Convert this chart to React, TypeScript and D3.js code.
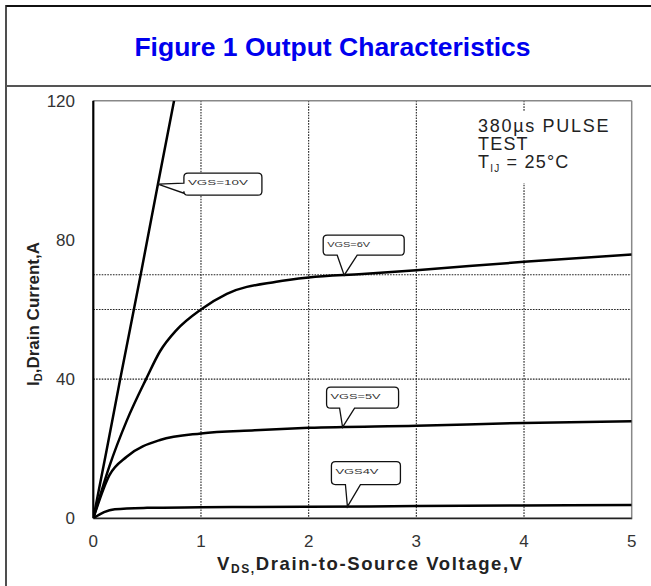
import React from "react";
import * as d3 from "d3";

// ---- data ----
const X_TICKS = [0, 1, 2, 3, 4, 5];
const Y_TICKS = [0, 40, 80, 120];
const X_GRID = [1, 2, 3, 4];
const Y_GRID = [40, 60, 70];

const VDS_10V = [0, 0.12, 0.25, 0.44, 0.6, 0.75];
const ID_10V = [0, 19, 40, 70, 96, 120];
const VDS_6V = [0, 0.15, 0.31, 0.49, 0.62, 0.77, 1, 1.24, 1.7, 2, 2.5, 3, 4, 5];
const ID_6V = [0, 15, 28, 40, 48, 54, 60, 64.5, 68, 69.2, 70.2, 71.3, 73.7, 75.8];
const VDS_5V = [0, 0.15, 0.31, 0.62, 1, 1.5, 2, 3, 4, 5];
const ID_5V = [0, 12.4, 17.7, 22.5, 24.4, 25.3, 26, 26.6, 27.4, 27.9];
const VDS_4V = [0, 0.1, 0.2, 0.5, 1, 2, 3, 4, 5];
const ID_4V = [0, 1.8, 2.6, 3.0, 3.2, 3.3, 3.5, 3.7, 3.8];

const SERIES_NAMES = ["VGS=10V", "VGS=6V", "VGS=5V", "VGS4V"];
const LABEL_AT_VDS = [0.6, 2.33, 2.315, 2.36];

const TITLE = "Figure 1 Output Characteristics";
const NOTE_LINES = ["380\u00B5s PULSE", "TEST"];

// ---- layout ----
const W = 651;
const H = 586;
const PL = 93.3, PR = 631.7, PT = 100.7, PB = 518.3;
const FONT = "'Liberation Sans', Arial, Helvetica, sans-serif";

// callout geometry (pixel offsets from the pointer tip)
const CALLOUTS = [
  { side: "left", box: [26, 104, -11, 11], base: [-1, 9], len: 60 },
  { side: "down", box: [-21, 60, -40, -20], base: [-7, 13], len: 43 },
  { side: "down", box: [-16, 56, -40, -19], base: [-3, 12], len: 50 },
  { side: "down", box: [-16, 53, -45, -22], base: [-2, 13], len: 43 },
];

function interp(vs: number[], is: number[], v: number) {
  for (let i = 1; i < vs.length; i++) {
    if (v <= vs[i]) {
      const t = (v - vs[i - 1]) / (vs[i] - vs[i - 1]);
      return is[i - 1] + t * (is[i] - is[i - 1]);
    }
  }
  return is[is.length - 1];
}

function calloutPath(side: string, x0: number, x1: number, y0: number, y1: number, b1: number, b2: number, tx: number, ty: number) {
  const r = 4;
  if (side === "down") {
    return `M${x0 + r},${y0} H${x1 - r} Q${x1},${y0} ${x1},${y0 + r} V${y1 - r} Q${x1},${y1} ${x1 - r},${y1} H${b2} L${tx},${ty} L${b1},${y1} H${x0 + r} Q${x0},${y1} ${x0},${y1 - r} V${y0 + r} Q${x0},${y0} ${x0 + r},${y0} Z`;
  }
  return `M${x0 + r},${y0} H${x1 - r} Q${x1},${y0} ${x1},${y0 + r} V${y1 - r} Q${x1},${y1} ${x1 - r},${y1} H${x0 + r} Q${x0},${y1} ${x0},${y1 - r} V${b2} L${tx},${ty} L${x0},${b1} V${y0 + r} Q${x0},${y0} ${x0 + r},${y0} Z`;
}

export default function App() {
  const x = d3.scaleLinear().domain([0, 5]).range([PL, PR]);
  const y = d3.scaleLinear().domain([0, 120]).range([PB, PT]);
  const series = [
    [VDS_10V, ID_10V],
    [VDS_6V, ID_6V],
    [VDS_5V, ID_5V],
    [VDS_4V, ID_4V],
  ];
  const line = d3
    .line<[number, number]>()
    .x((d) => x(d[0]))
    .y((d) => y(d[1]))
    .curve(d3.curveMonotoneX);

  return (
    <div style={{ position: "fixed", left: 0, top: 0 }}>
      <svg width={W} height={H} style={{ display: "block", background: "#fff" }} fontFamily={FONT}>
        <rect x={0} y={0} width={W} height={H} fill="#fff" />
        {/* outer frame */}
        <line x1={6} y1={6} x2={W} y2={6} stroke="#111" strokeWidth={2} />
        <line x1={6} y1={5} x2={6} y2={H} stroke="#222" strokeWidth={1.6} />
        <line x1={6} y1={86} x2={W} y2={86} stroke="#555" strokeWidth={2} />
        <text x={332.5} y={56} textAnchor="middle" fontSize={26.5} fontWeight="bold" fill="#0000ee">
          {TITLE}
        </text>

        <defs>
          <clipPath id="plotclip">
            <rect x={PL} y={PT} width={PR - PL} height={PB - PT} />
          </clipPath>
        </defs>

        {/* grid */}
        {X_GRID.map((v) => (
          <line key={"gx" + v} x1={x(v)} x2={x(v)} y1={PT} y2={PB} stroke="#222" strokeWidth={1.1} strokeDasharray="1.6,1.2" />
        ))}
        {Y_GRID.map((v) => (
          <line key={"gy" + v} x1={PL} x2={PR} y1={y(v)} y2={y(v)} stroke="#222" strokeWidth={1.1} strokeDasharray="1.6,1.2" />
        ))}

        {/* frame */}
        <line x1={PL} x2={PR} y1={PT} y2={PT} stroke="#888" strokeWidth={1.5} />
        <line x1={PR} x2={PR} y1={PT} y2={PB + 1} stroke="#888" strokeWidth={1.5} />
        <line x1={PL} x2={PR} y1={PB} y2={PB} stroke="#222" strokeWidth={1.8} />
        <line x1={PL} x2={PL} y1={PT} y2={PB} stroke="#000" strokeWidth={2.2} />

        {/* note box */}
        <rect x={473} y={112} width={152} height={71} fill="#fff" />
        <text x={478} y={131.7} fontSize={18} fill="#222" letterSpacing={1.7}>
          {NOTE_LINES[0]}
        </text>
        <text x={478} y={150} fontSize={18} fill="#222" letterSpacing={1.2}>
          {NOTE_LINES[1]}
        </text>
        <text x={478} y={168.3} fontSize={18} fill="#222" letterSpacing={1.2}>
          T<tspan fontSize={10} dy={4}>IJ</tspan>
          <tspan dy={-4}>{" = 25\u00B0C"}</tspan>
        </text>

        {/* curves */}
        <g clipPath="url(#plotclip)">
          {series.map(([vs, is], i) => (
            <path
              key={"s" + i}
              d={line(vs.map((v, k) => [v, is[k]] as [number, number])) || ""}
              fill="none"
              stroke="#000"
              strokeWidth={2.5}
              strokeLinejoin="round"
            />
          ))}
        </g>

        {/* callouts */}
        {series.map(([vs, is], i) => {
          const c = CALLOUTS[i];
          const v = LABEL_AT_VDS[i];
          const tx = x(v);
          const ty = y(interp(vs, is, v));
          const x0 = tx + c.box[0], x1 = tx + c.box[1], y0 = ty + c.box[2], y1 = ty + c.box[3];
          const b1 = c.side === "down" ? tx + c.base[0] : ty + c.base[0];
          const b2 = c.side === "down" ? tx + c.base[1] : ty + c.base[1];
          return (
            <g key={"c" + i}>
              <path d={calloutPath(c.side, x0, x1, y0, y1, b1, b2, tx, ty)} fill="#fff" stroke="#111" strokeWidth={1.3} />
              <text x={x0 + 4} y={y0 + 12} fontSize={8} fill="#333" textLength={c.len} lengthAdjust="spacingAndGlyphs">
                {SERIES_NAMES[i]}
              </text>
            </g>
          );
        })}

        {/* tick labels */}
        {Y_TICKS.map((v) => (
          <text key={"yt" + v} x={75} y={y(v) + 6} textAnchor="end" fontSize={17} fill="#333">
            {v}
          </text>
        ))}
        {X_TICKS.map((v) => (
          <text key={"xt" + v} x={x(v)} y={547} textAnchor="middle" fontSize={17} fill="#333">
            {v}
          </text>
        ))}

        {/* axis titles */}
        <text x={217} y={570} fontSize={18.5} fontWeight="bold" fill="#222" letterSpacing={1.6}>
          V<tspan fontSize={12} dy={3}>DS,</tspan>
          <tspan dy={-3}>Drain-to-Source Voltage,V</tspan>
        </text>
        <text transform="translate(39,314) rotate(-90)" textAnchor="middle" fontSize={17} fontWeight="bold" fill="#222">
          I<tspan fontSize={11} dy={3}>D</tspan>
          <tspan dy={-3}>,Drain Current,A</tspan>
        </text>
      </svg>
    </div>
  );
}
